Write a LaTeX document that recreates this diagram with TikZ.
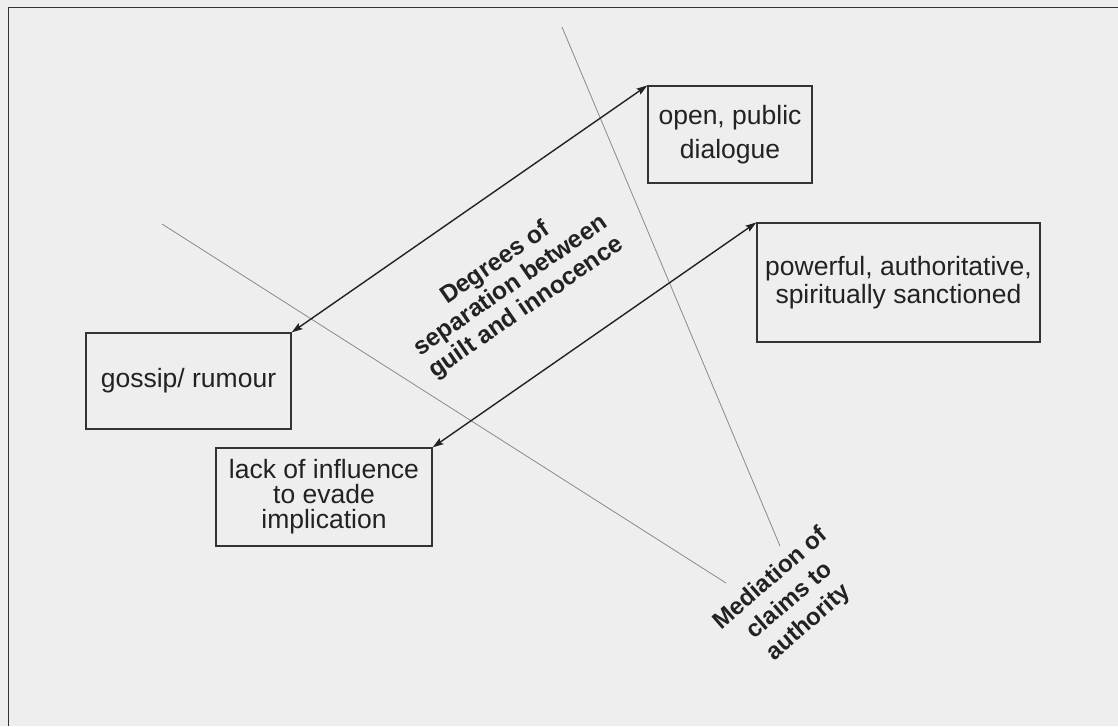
\documentclass[tikz,border=0pt]{standalone}
\usepackage{fontspec}
\setmainfont{Liberation Sans}
\usetikzlibrary{arrows.meta}
\definecolor{bg}{HTML}{EEEEEE}
\definecolor{ink}{HTML}{222222}
\definecolor{frame}{HTML}{333333}
\definecolor{thin}{HTML}{8A8A8A}
\tikzset{
  box/.style={draw=frame, line width=1.2pt, rectangle, inner sep=0pt, align=center,
    text=ink, font=\fontsize{26.5}{27}\selectfont},
  axislabel/.style={align=center, text=ink, inner sep=0pt},
  guide/.style={draw=thin, line width=0.8pt},
  dbl/.style={draw=ink, line width=1.4pt,
    {Stealth[length=11pt,width=7pt,inset=2pt]}-{Stealth[length=11pt,width=7pt,inset=2pt]}},
}
\begin{document}
\begin{tikzpicture}[x=1pt,y=-1pt]
\fill[bg] (0,0) rectangle (1118,726);
\useasboundingbox (0,0) rectangle (1118,726);
% frame
\coordinate (ftl) at (8.5,7.5);
\coordinate (ftr) at (1118,7.5);
\coordinate (fbl) at (8.5,726);
\draw[frame, line width=1.6pt] (ftr) -- (ftl) -- (fbl);
% guide lines
\coordinate (g1a) at (162,224);
\coordinate (g1b) at (726,583);
\coordinate (g2a) at (562,27);
\coordinate (g2b) at (780,546);
\draw[guide] (g1a) -- (g1b);
\draw[guide] (g2a) -- (g2b);
% boxes
\node[box, minimum width=164pt, minimum height=97pt, font=\fontsize{26.5}{34}\selectfont] (open) at (730,134.5) {open, public\\dialogue};
\node[box, minimum width=283pt, minimum height=119pt, font=\fontsize{26.5}{27.5}\selectfont] (power) at (898.5,282.5) {powerful, authoritative,\\spiritually sanctioned};
\node[box, minimum width=205pt, minimum height=96pt] (gossip) at (188.5,381) {gossip/ rumour};
\node[box, minimum width=216pt, minimum height=98pt, font=\fontsize{26.5}{25}\selectfont] (lack) at (324,497) {lack of influence\\to evade\\implication};
% arrows
\draw[dbl] (gossip.north east) -- (open.north west);
\draw[dbl] (lack.north east) -- (power.north west);
% labels
\node[axislabel, rotate=34.6, font=\bfseries\fontsize{24.5}{27}\selectfont] (deg) at (511,286) {Degrees of\\separation between\\guilt and innocence};
\node[axislabel, rotate=41, font=\bfseries\fontsize{24}{29}\selectfont] (med) at (790,601) {Mediation of\\claims to\\authority};
\end{tikzpicture}
\end{document}
